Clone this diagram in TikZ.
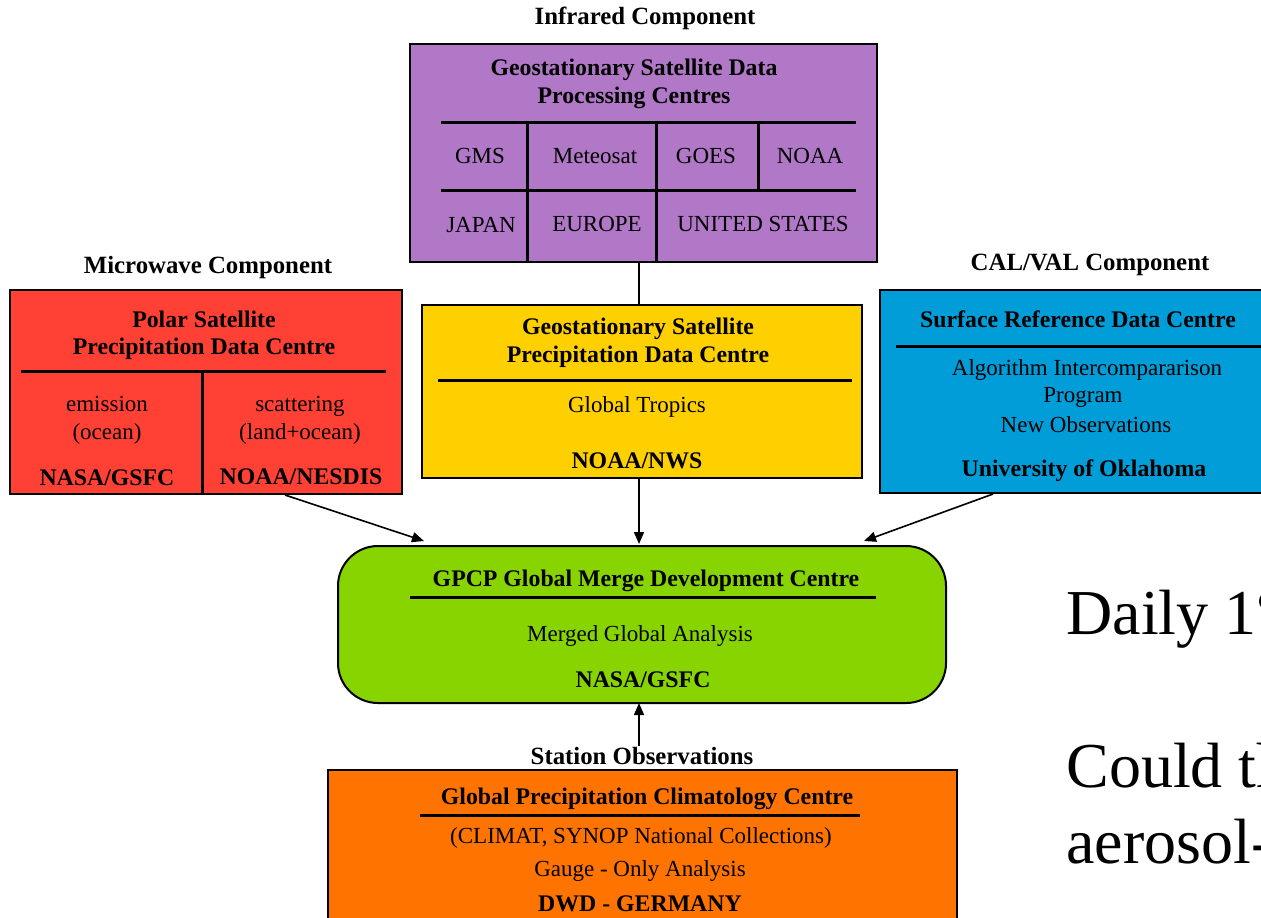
\documentclass[tikz,border=0pt]{standalone}
\usepackage{fontspec}
\setmainfont{Liberation Serif}
\usetikzlibrary{arrows.meta, positioning, calc, fit}

\definecolor{irpurple}{RGB}{176,120,198}
\definecolor{mwred}{RGB}{255,64,52}
\definecolor{geoyellow}{RGB}{255,208,0}
\definecolor{calblue}{RGB}{0,157,217}
\definecolor{mergegreen}{RGB}{136,212,0}
\definecolor{gaugeorange}{RGB}{255,115,0}

\begin{document}
\begin{tikzpicture}[x=0.5pt, y=-0.5pt,
  box/.style={draw=black, line width=1pt, inner sep=0pt},
  head/.style={font=\fontsize{11.9}{14}\selectfont\bfseries, inner sep=0pt, text height=0.7em, text depth=0.2em},
  body/.style={font=\fontsize{11.5}{14}\selectfont, inner sep=0pt, text height=0.7em, text depth=0.2em},
  comp/.style={font=\fontsize{12.4}{14}\selectfont\bfseries, inner sep=0pt, text height=0.7em, text depth=0.2em},
  rule/.style={line width=1.5pt},
  link/.style={-{Triangle[length=6pt,width=5pt]}, line width=0.8pt},
  big/.style={font=\fontsize{32}{38}\selectfont, anchor=base west, inner sep=0pt}]

  \useasboundingbox (0,0) rectangle (1261,917);
  \clip (0,0) rectangle (1261,917);
  \fill[white] (0,0) rectangle (1261,917);

  % infrared
  \node[comp] (irlabel) at (645,19) {Infrared Component};
  \node[box, fill=irpurple, minimum width=233.5pt, minimum height=109pt] (ir) at (643.5,153) {};
  \node[head] (irhead1) at (634,70) {Geostationary Satellite Data};
  \node[head] (irhead2) at (634,98) {Processing Centres};
  \draw[rule] (441,122) -- (856,122);
  \draw[rule] (441,190) -- (856,190);
  \draw[rule] (527,122) -- (527,262);
  \draw[rule] (656,122) -- (656,262);
  \draw[rule] (758,122) -- (758,190);
  \node[body] (gms) at (480,158) {GMS};
  \node[body] (meteosat) at (595,158) {Meteosat};
  \node[body] (goes) at (706,158) {GOES};
  \node[body] (noaa) at (810,158) {NOAA};
  \node[body] (japan) at (481,227) {JAPAN};
  \node[body] (europe) at (597,226) {EUROPE};
  \node[body] (usa) at (763,226) {UNITED STATES};

  % microwave
  \node[comp] (mwlabel) at (208,268) {Microwave Component};
  \node[box, fill=mwred, minimum width=196pt, minimum height=102pt] (mw) at (206,392) {};
  \node[head] (mwhead1) at (204,322) {Polar Satellite};
  \node[head] (mwhead2) at (204,349) {Precipitation Data Centre};
  \draw[rule] (21,371) -- (386,371);
  \draw[rule] (202,371) -- (202,494);
  \node[body] (emis1) at (107,406) {emission};
  \node[body] (emis2) at (107,434) {(ocean)};
  \node[body] (scat1) at (300,406) {scattering};
  \node[body] (scat2) at (300,434) {(land+ocean)};
  \node[head] (gsfc) at (107,480) {NASA/GSFC};
  \node[head] (nesdis) at (301,479) {NOAA/NESDIS};

  % geostationary
  \node[box, fill=geoyellow, minimum width=220pt, minimum height=86.5pt] (geo) at (642,391.5) {};
  \node[head] (geohead1) at (638,329) {Geostationary Satellite};
  \node[head] (geohead2) at (638,357) {Precipitation Data Centre};
  \draw[rule] (438,380) -- (852,380);
  \node[body] (tropics) at (637,407) {Global Tropics};
  \node[head] (nws) at (637,463) {NOAA/NWS};

  % cal/val
  \node[comp] (cvlabel) at (1090,265) {CAL/VAL Component};
  \node[box, fill=calblue, minimum width=210pt, minimum height=101.5pt] (cv) at (1090,391.5) {};
  \node[head] (cvhead) at (1078,322) {Surface Reference Data Centre};
  \draw[rule] (896,346) -- (1275,346);
  \node[body] (aip1) at (1087,370) {Algorithm Intercompararison};
  \node[body] (aip2) at (1083,397) {Program};
  \node[body] (newobs) at (1086,427) {New Observations};
  \node[head] (ou) at (1084,471) {University of Oklahoma};

  % merge
  \node[box, fill=mergegreen, rounded corners=20pt, minimum width=304pt, minimum height=78.5pt] (gm) at (642,624.5) {};
  \node[head] (gmhead) at (646,581) {GPCP Global Merge Development Centre};
  \draw[rule] (410,597) -- (876,597);
  \node[body] (mga) at (640,636) {Merged Global Analysis};
  \node[head] (gmgsfc) at (643,682) {NASA/GSFC};

  % gauge
  \node[comp] (stlabel) at (642,759) {Station Observations};
  \node[box, fill=gaugeorange, minimum width=314.5pt, minimum height=95pt] (gpcc) at (642.5,865) {};
  \node[head] (gpcchead) at (647,799) {Global Precipitation Climatology Centre};
  \draw[rule] (420,815) -- (860,815);
  \node[body] (climat) at (641,838) {(CLIMAT, SYNOP National Collections)};
  \node[body] (gauge) at (640,871) {Gauge - Only Analysis};
  \node[head] (dwd) at (640,906) {DWD - GERMANY};

  % connectors
  \coordinate (irfoot) at (639,262);
  \draw[line width=0.8pt] (irfoot) -- (irfoot |- geo.north);
  \draw[link] ($(mw.south)+(79,0)$) -- ($(gm.north)+(-218,-4)$);
  \draw[link] ($(geo.south)+(-3,0)$) -- ($(gm.north)+(-3,-1)$);
  \draw[link] ($(cv.south)+(-97,0)$) -- ($(gm.north)+(222,-4)$);
  \draw[link] ($(stlabel.north)+(-3,-4)$) -- ($(gm.south)+(-3,-1)$);

  % slide text
  \node[big] (daily) at (1066,634) {Daily 1°};
  \node[big] (could) at (1066,787) {Could the};
  \node[big] (aerosol) at (1066,863) {aerosol-};
\end{tikzpicture}
\end{document}
